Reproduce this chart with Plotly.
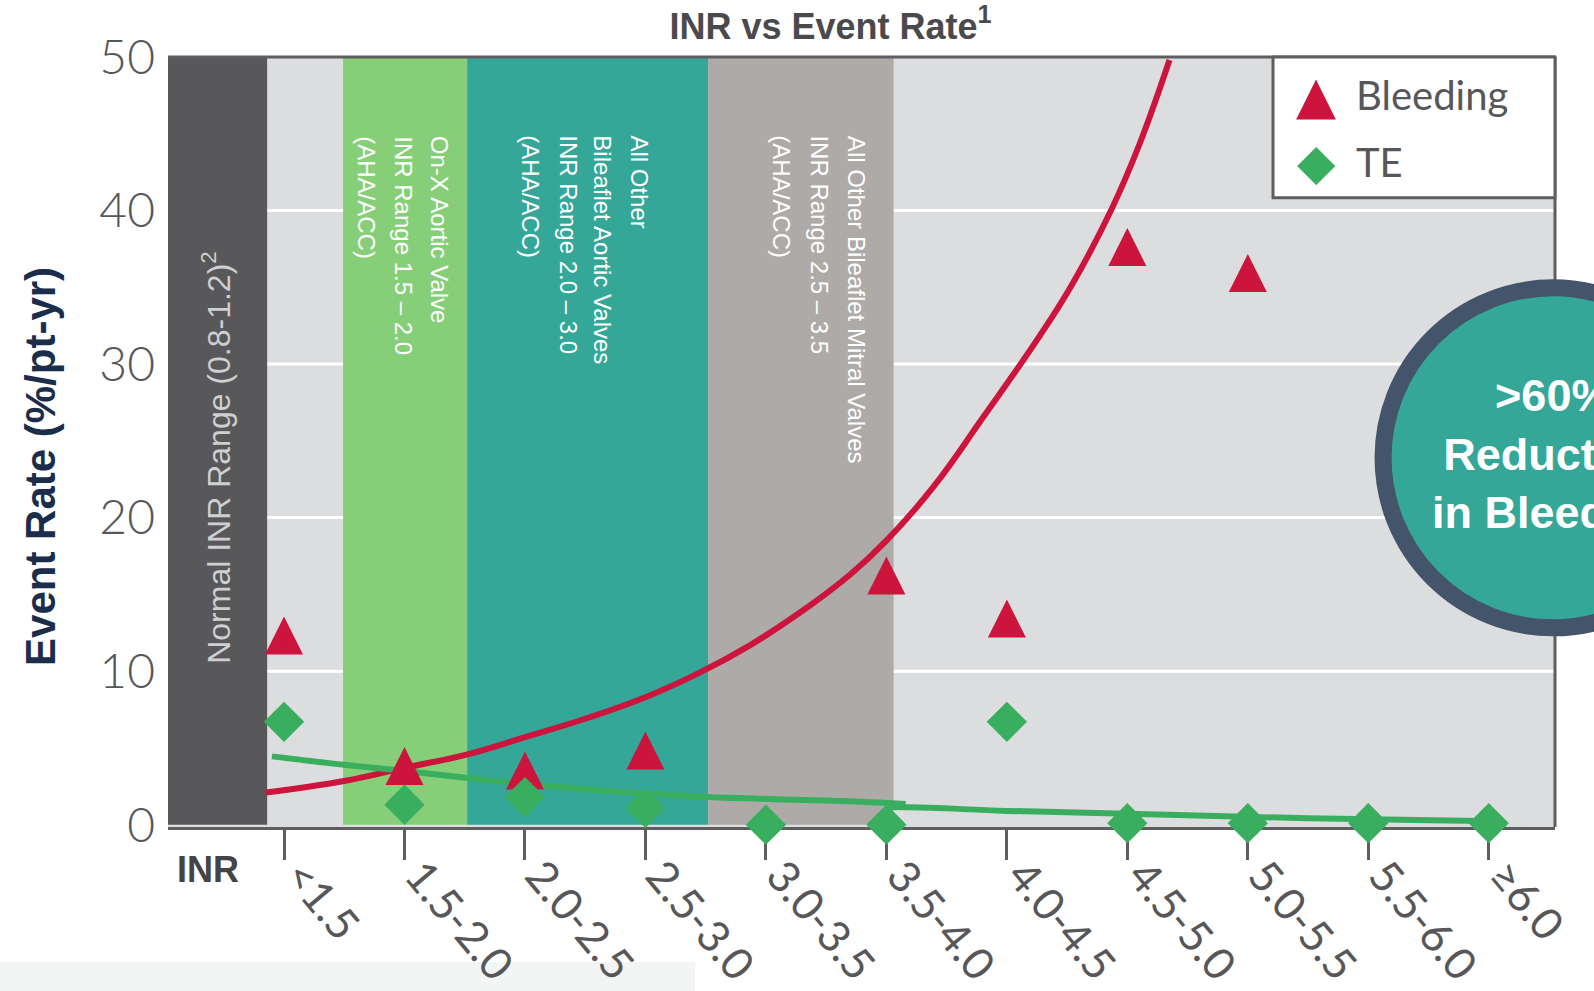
import plotly.graph_objects as go

# ---------------- data ----------------
categories = ["<1.5", "1.5-2.0", "2.0-2.5", "2.5-3.0", "3.0-3.5", "3.5-4.0",
              "4.0-4.5", "4.5-5.0", "5.0-5.5", "5.5-6.0", "≥6.0"]
bleeding = [12.0, 3.5, 3.2, 4.5, None, 15.9, 13.1, 37.3, 35.6, None, None]
te = [6.7, 1.3, 1.8, 1.1, 0.0, 0.0, 6.7, 0.1, 0.1, 0.1, 0.1]

# fitted trend curves (positions in category-index units)
bleeding_trend_x = [-0.15, 0.5, 1.0, 1.53, 2.0, 2.5, 3.0, 3.45, 3.87, 4.28, 4.70, 5.0,
                    5.39, 5.80, 6.27, 6.55, 6.87, 7.10, 7.35]
bleeding_trend_y = [2.1, 2.85, 3.7, 4.6, 5.7, 6.9, 8.3, 9.9, 11.7, 13.8, 16.3, 18.5,
                    22.0, 26.5, 31.8, 35.3, 40.1, 44.3, 49.8]
te_trend1_x = [-0.1, 0.5, 1.0, 2.0, 3.0, 3.52, 4.78, 5.16]
te_trend1_y = [4.45, 3.9, 3.5, 2.65, 2.03, 1.8, 1.5, 1.35]
te_trend2_x = [5.0, 5.36, 6.0, 7.5, 8.5, 9.52, 10.1]
te_trend2_y = [1.15, 1.1, 0.9, 0.62, 0.42, 0.29, 0.23]

y_ticks = [0, 10, 20, 30, 40, 50]

# ---------------- styling ----------------
RED = "#cc143c"
GREEN = "#3aae5f"
TEAL = "#34a798"
LIGHT_GREEN = "#86cf78"
DARK_BAND = "#58585a"
TAUPE = "#aeaaa8"
PLOT_BG = "#dcdddf"
AXIS_GREY = "#5e5e60"
TEXT_GREY = "#575759"
NAVY = "#1b2d4a"
SANS = "Liberation Sans, Arial, sans-serif"
LIGHT = "Lato, Liberation Sans, sans-serif"

X_RANGE = [-0.963, 10.55]
Y_RANGE = [-0.15, 50]

# vertical shaded bands: (x0, x1, colour)
bands = [
    (X_RANGE[0], -0.14, DARK_BAND),
    (0.49, 1.52, LIGHT_GREEN),
    (1.52, 3.52, TEAL),
    (3.52, 5.06, TAUPE),
]

x_idx = list(range(len(categories)))

fig = go.Figure()

spline = dict(width=6, shape="spline", smoothing=1.2)
fig.add_trace(go.Scatter(x=bleeding_trend_x, y=bleeding_trend_y, mode="lines",
                         line=dict(color=RED, **spline), showlegend=False, hoverinfo="skip"))
fig.add_trace(go.Scatter(x=te_trend2_x, y=te_trend2_y, mode="lines",
                         line=dict(color=GREEN, **spline), showlegend=False, hoverinfo="skip"))
fig.add_trace(go.Scatter(x=te_trend1_x, y=te_trend1_y, mode="lines",
                         line=dict(color=GREEN, **spline), showlegend=False, hoverinfo="skip"))

# data markers
fig.add_trace(go.Scatter(x=x_idx, y=bleeding, mode="markers", name="Bleeding",
                         marker=dict(symbol="arrow-down", angle=180, standoff=24,
                                     size=38, color=RED, line=dict(width=0)),
                         cliponaxis=False, showlegend=False))
fig.add_trace(go.Scatter(x=x_idx, y=te, mode="markers", name="TE",
                         marker=dict(symbol="diamond", size=31, color=GREEN,
                                     line=dict(width=0)),
                         cliponaxis=False, showlegend=False))

shapes = []
# gridlines (behind the coloured bands)
for v in y_ticks:
    if 0 < v < y_ticks[-1]:
        shapes.append(dict(type="line", xref="paper", yref="y", x0=0, x1=1, y0=v, y1=v,
                           line=dict(color="white", width=3), layer="below"))
# bands
for x0, x1, col in bands:
    shapes.append(dict(type="rect", xref="x", yref="y", x0=x0, x1=x1, y0=0, y1=50,
                       fillcolor=col, line=dict(width=0), layer="below"))
# frame top / right
shapes.append(dict(type="line", xref="paper", yref="paper", x0=0, x1=1, y0=1, y1=1,
                   line=dict(color=AXIS_GREY, width=3), layer="above"))
shapes.append(dict(type="line", xref="paper", yref="paper", x0=1, x1=1, y0=0, y1=1,
                   line=dict(color=AXIS_GREY, width=3), layer="above"))
# legend box
shapes.append(dict(type="rect", xref="paper", yref="paper", x0=0.7967, x1=1.0, y0=0.8172, y1=1.0,
                   fillcolor="white", line=dict(color=AXIS_GREY, width=3), layer="above"))
# callout circle
shapes.append(dict(type="circle", xref="paper", yref="paper",
                   xsizemode="pixel", ysizemode="pixel", xanchor=0.9986, yanchor=0.4794,
                   x0=-170, x1=170, y0=-170, y1=170,
                   fillcolor=TEAL, line=dict(color="#44546a", width=17), layer="above"))
# faint bottom strip of the slide background
shapes.append(dict(type="rect", xref="paper", yref="paper", x0=-0.13, x1=0.38, y0=-0.2131, y1=-0.1754,
                   fillcolor="#f3f4f4", line=dict(width=0), layer="below"))

annotations = []
# rotated band labels
band_lines = [
    (1.286, "On-X Aortic Valve"),
    (0.996, "INR Range 1.5 – 2.0"),
    (0.689, "(AHA/ACC)"),
    (2.954, "All Other"),
    (2.647, "Bileaflet Aortic Valves"),
    (2.365, "INR Range 2.0 – 3.0"),
    (2.050, "(AHA/ACC)"),
    (4.747, "All Other Bileaflet Mitral Valves"),
    (4.448, "INR Range 2.5 – 3.5"),
    (4.133, "(AHA/ACC)"),
]
for bx, txt in band_lines:
    annotations.append(dict(x=bx, y=45.0, xref="x", yref="y", text=txt, textangle=90,
                            showarrow=False, xanchor="center", yanchor="top",
                            font=dict(family=SANS, size=24, color="white")))
annotations.append(dict(x=-0.56, y=10.35, xref="x", yref="y",
                        text="Normal INR Range (0.8-1.2)<sup>2</sup>", textangle=-90,
                        showarrow=False, xanchor="center", yanchor="bottom",
                        font=dict(family=SANS, size=32, color="#cfcfd0")))
# axis titles
annotations.append(dict(x=-0.0915, y=0.4677, xref="paper", yref="paper",
                        text="<b>Event Rate (%/pt-yr)</b>", textangle=-90, showarrow=False,
                        xanchor="center", yanchor="middle",
                        font=dict(family=SANS, size=42, color=NAVY)))
annotations.append(dict(x=0.0288, y=-0.0546, xref="paper", yref="paper",
                        text="<b>INR</b>", showarrow=False, xanchor="center", yanchor="middle",
                        font=dict(family=SANS, size=36, color="#444446")))
# legend entries
annotations.append(dict(x=0.8277, y=0.951, xref="paper", yref="paper", text="▲", showarrow=False,
                        xanchor="center", yanchor="middle",
                        font=dict(family="DejaVu Sans", size=52, color=RED)))
annotations.append(dict(x=0.8277, y=0.864, xref="paper", yref="paper", text="◆", showarrow=False,
                        xanchor="center", yanchor="middle",
                        font=dict(family="DejaVu Sans", size=50, color=GREEN)))
annotations.append(dict(x=0.8551, y=0.951, xref="paper", yref="paper", text="Bleeding",
                        showarrow=False, xanchor="left", yanchor="middle",
                        font=dict(family=LIGHT, size=40, color=TEXT_GREY)))
annotations.append(dict(x=0.8551, y=0.864, xref="paper", yref="paper", text="TE",
                        showarrow=False, xanchor="left", yanchor="middle",
                        font=dict(family=LIGHT, size=40, color=TEXT_GREY)))
# callout text
annotations.append(dict(x=0.9986, y=0.4846, xref="paper", yref="paper",
                        text="<b>&gt;60%<br>Reduction<br>in Bleeding</b>", showarrow=False,
                        xanchor="center", yanchor="middle", align="center",
                        font=dict(family=SANS, size=45, color="white")))

tick_text = [c.replace("<", "&lt;") for c in categories]

fig.update_layout(
    width=1594, height=991,
    margin=dict(l=168, r=39, t=57, b=164, autoexpand=False),
    paper_bgcolor="white",
    plot_bgcolor=PLOT_BG,
    showlegend=False,
    title=dict(text="<b>INR vs Event Rate<sup>1</sup></b>", x=0.521, xref="container",
               y=1 - 26 / 991, yref="container", xanchor="center", yanchor="middle",
               font=dict(family=SANS, size=36, color="#4a4a4c")),
    xaxis=dict(range=X_RANGE, tickvals=x_idx, ticktext=tick_text, tickangle=50,
               showgrid=False, zeroline=False, showline=True, linecolor=AXIS_GREY, linewidth=3,
               ticks="outside", ticklen=30, tickwidth=2.5, tickcolor=AXIS_GREY,
               ticklabelstandoff=-28, ticklabelshift=15,
               tickfont=dict(family=LIGHT, size=44, color=TEXT_GREY),
               layer="below traces", fixedrange=True, automargin=False),
    yaxis=dict(range=Y_RANGE, tickvals=y_ticks, showgrid=False, zeroline=False,
               showline=False, ticks="", ticklabelstandoff=12,
               tickfont=dict(family=LIGHT, size=48, color=TEXT_GREY, weight=300),
               fixedrange=True, automargin=False),
    shapes=shapes,
    annotations=annotations,
)

fig.write_html("out.html", config={"displayModeBar": False})
